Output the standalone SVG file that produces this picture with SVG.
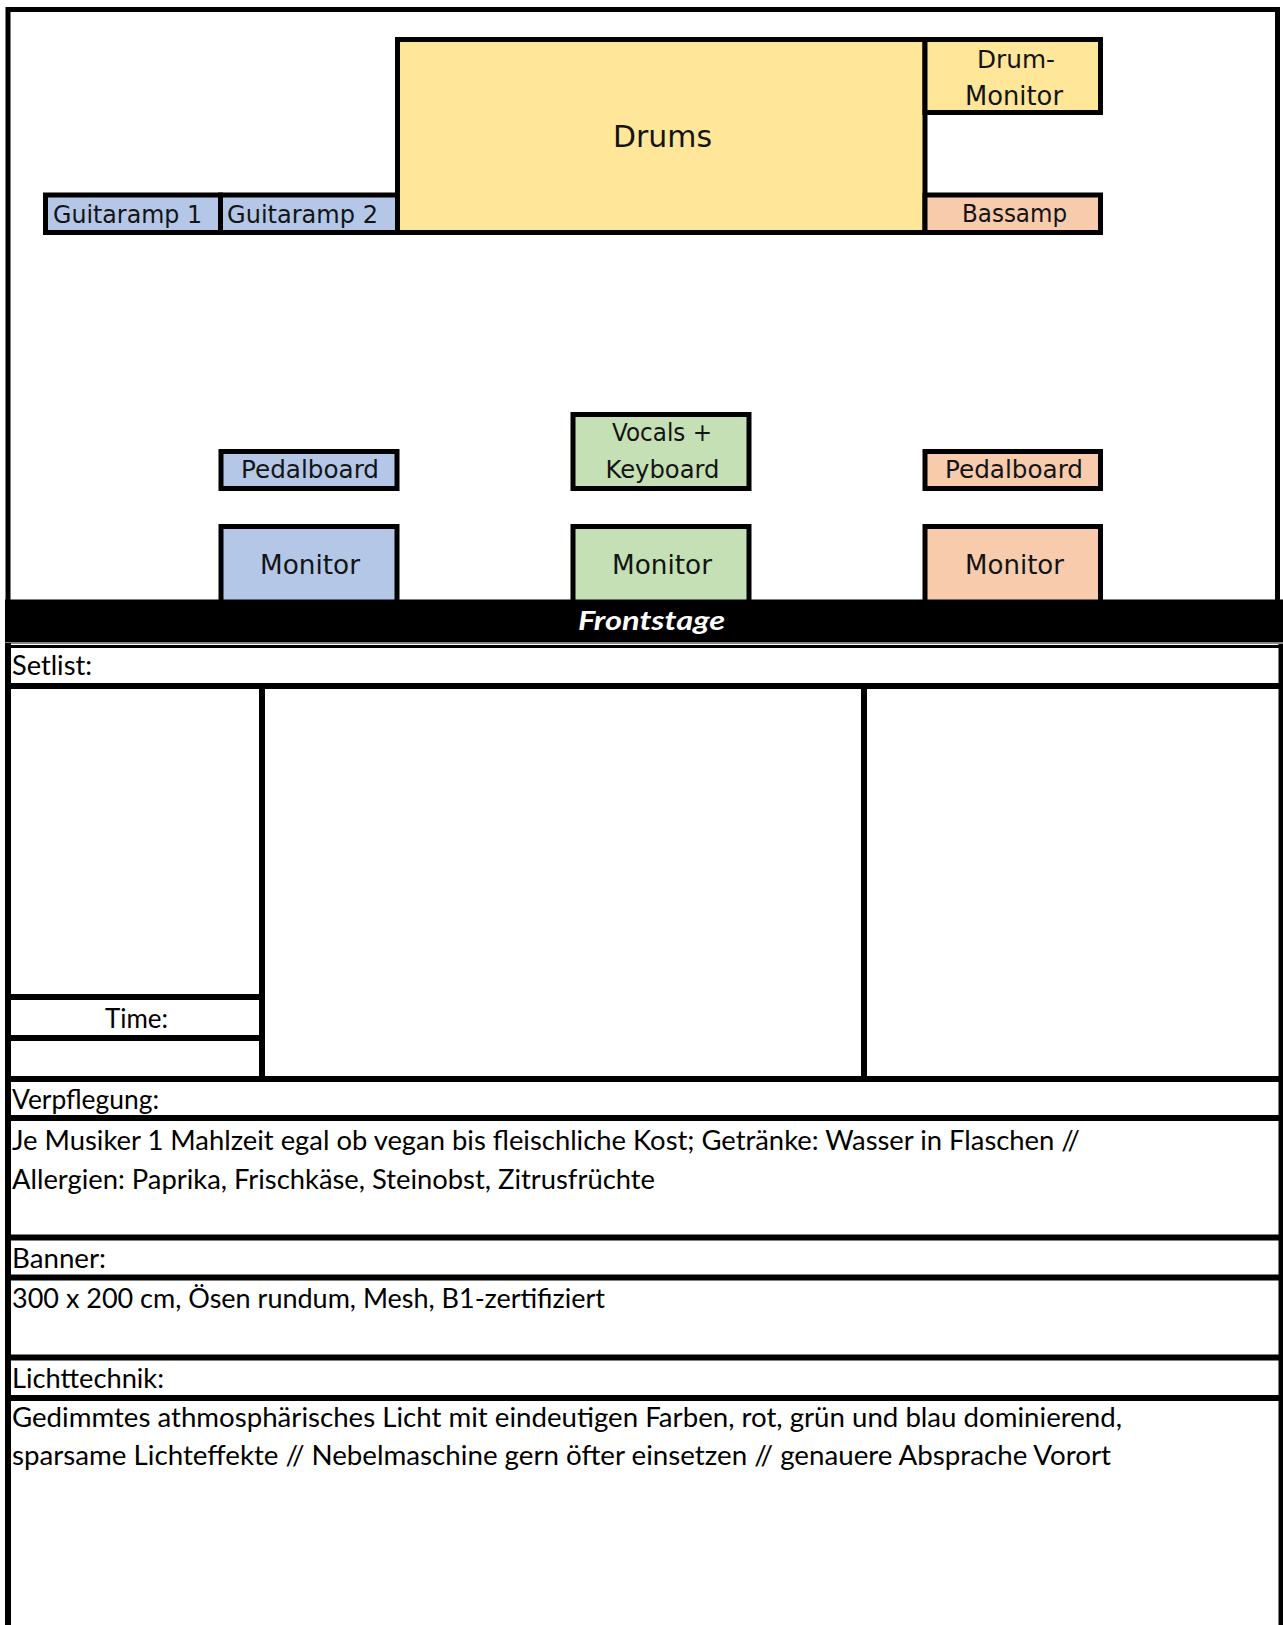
<svg xmlns="http://www.w3.org/2000/svg" width="1283" height="1625" viewBox="0 0 1283 1625">
<style>
.box{stroke:#000;stroke-width:5}
.blue{fill:#B4C7E7}.green{fill:#C5E0B4}.orange{fill:#F8CBAD}.yellow{fill:#FFE699}
.lbl{font-family:"DejaVu Sans",Verdana,sans-serif;font-size:24px;fill:#141414;text-anchor:middle}
.big{font-size:30px}.mon{font-size:26px}
.tbl{font-family:Lato,"Liberation Sans",sans-serif;font-size:27px;fill:#000}
.line{stroke:#000;stroke-width:6;fill:none}
</style>
<rect width="1283" height="1625" fill="#fff"/>

<g id="stage-border">
<path d="M8,601 V9.5 H1277.5 V601" fill="none" stroke="#000" stroke-width="5"/>
</g>

<g id="guitaramp1">
<rect class="box blue" x="45.5" y="195" width="175" height="37.5"/>
<text class="lbl" x="127.5" y="222.5" textLength="149" lengthAdjust="spacingAndGlyphs">Guitaramp 1</text>
</g>
<g id="guitaramp2">
<rect class="box blue" x="220.5" y="195" width="177" height="37.5"/>
<text class="lbl" x="302.5" y="222.5" textLength="151" lengthAdjust="spacingAndGlyphs">Guitaramp 2</text>
</g>
<g id="drums">
<rect class="box yellow" x="397.5" y="39.5" width="527.5" height="193"/>
<text class="lbl big" x="662.5" y="147" textLength="99" lengthAdjust="spacingAndGlyphs">Drums</text>
</g>
<g id="drum-monitor">
<rect class="box yellow" x="925" y="39.5" width="175.5" height="73"/>
<text class="lbl" x="1016" y="67.5" textLength="78" lengthAdjust="spacingAndGlyphs">Drum-</text>
<text class="lbl mon" x="1014" y="105" textLength="98" lengthAdjust="spacingAndGlyphs">Monitor</text>
</g>
<g id="bassamp">
<rect class="box orange" x="925" y="195" width="175.5" height="37.5"/>
<text class="lbl" x="1014.5" y="222" textLength="105" lengthAdjust="spacingAndGlyphs">Bassamp</text>
</g>

<g id="pedalboard-left">
<rect class="box blue" x="221" y="451.5" width="176" height="37"/>
<text class="lbl" x="310" y="478" textLength="138" lengthAdjust="spacingAndGlyphs">Pedalboard</text>
</g>
<g id="vocals-keyboard">
<rect class="box green" x="573" y="414.5" width="176" height="74"/>
<text class="lbl" x="662" y="441" textLength="100" lengthAdjust="spacingAndGlyphs">Vocals +</text>
<text class="lbl" x="662.5" y="478" textLength="114" lengthAdjust="spacingAndGlyphs">Keyboard</text>
</g>
<g id="pedalboard-right">
<rect class="box orange" x="925" y="451.5" width="175.5" height="37"/>
<text class="lbl" x="1014" y="478" textLength="138" lengthAdjust="spacingAndGlyphs">Pedalboard</text>
</g>

<g id="monitor-left">
<rect class="box blue" x="221" y="526.5" width="176" height="76"/>
<text class="lbl mon" x="310" y="574" textLength="100" lengthAdjust="spacingAndGlyphs">Monitor</text>
</g>
<g id="monitor-center">
<rect class="box green" x="573" y="526.5" width="176" height="76"/>
<text class="lbl mon" x="662" y="574" textLength="100" lengthAdjust="spacingAndGlyphs">Monitor</text>
</g>
<g id="monitor-right">
<rect class="box orange" x="925" y="526.5" width="175.5" height="76"/>
<text class="lbl mon" x="1014.5" y="574" textLength="99" lengthAdjust="spacingAndGlyphs">Monitor</text>
</g>

<g id="frontstage">
<rect x="5" y="599.5" width="1278" height="43" fill="#000"/>
<line x1="5" y1="643.5" x2="1283" y2="643.5" stroke="#8a8a8a" stroke-width="1"/>
<text x="651.5" y="630" font-family="Lato,'Open Sans',sans-serif" font-size="27" font-weight="bold" font-style="italic" fill="#fff" text-anchor="middle" textLength="147" lengthAdjust="spacingAndGlyphs">Frontstage</text>
</g>

<g id="table-lines">
<line class="line" x1="8" y1="643" x2="8" y2="1625"/>
<line class="line" x1="1281" y1="644" x2="1281" y2="1625" style="stroke-width:5"/>
<line class="line" x1="8" y1="646.5" x2="1283" y2="646.5" style="stroke-width:3"/>
<line class="line" x1="8" y1="686" x2="1283" y2="686"/>
<line class="line" x1="262" y1="686" x2="262" y2="1079"/>
<line class="line" x1="864" y1="686" x2="864" y2="1079"/>
<line class="line" x1="8" y1="997" x2="262" y2="997"/>
<line class="line" x1="8" y1="1038" x2="262" y2="1038"/>
<line class="line" x1="8" y1="1079" x2="1283" y2="1079"/>
<line class="line" x1="8" y1="1118" x2="1283" y2="1118"/>
<line class="line" x1="8" y1="1237.5" x2="1283" y2="1237.5"/>
<line class="line" x1="8" y1="1277.5" x2="1283" y2="1277.5"/>
<line class="line" x1="8" y1="1357.5" x2="1283" y2="1357.5"/>
<line class="line" x1="8" y1="1398" x2="1283" y2="1398"/>
</g>

<g id="setlist">
<text class="tbl" x="12" y="675" textLength="80" lengthAdjust="spacingAndGlyphs">Setlist:</text>
<text class="tbl" x="105" y="1028" textLength="63" lengthAdjust="spacingAndGlyphs">Time:</text>
</g>
<g id="verpflegung">
<text class="tbl" x="12" y="1109" textLength="147" lengthAdjust="spacingAndGlyphs">Verpflegung:</text>
<text class="tbl" x="12" y="1150" textLength="1068" lengthAdjust="spacingAndGlyphs">Je Musiker 1 Mahlzeit egal ob vegan bis fleischliche Kost; Getränke: Wasser in Flaschen //</text>
<text class="tbl" x="12" y="1189" textLength="643" lengthAdjust="spacingAndGlyphs">Allergien: Paprika, Frischkäse, Steinobst, Zitrusfrüchte</text>
</g>
<g id="banner">
<text class="tbl" x="12" y="1268" textLength="94" lengthAdjust="spacingAndGlyphs">Banner:</text>
<text class="tbl" x="12" y="1308" textLength="593" lengthAdjust="spacingAndGlyphs">300 x 200 cm, Ösen rundum, Mesh, B1-zertifiziert</text>
</g>
<g id="lichttechnik">
<text class="tbl" x="12" y="1388" textLength="152" lengthAdjust="spacingAndGlyphs">Lichttechnik:</text>
<text class="tbl" x="12" y="1427" textLength="1110" lengthAdjust="spacingAndGlyphs">Gedimmtes athmosphärisches Licht mit eindeutigen Farben, rot, grün und blau dominierend,</text>
<text class="tbl" x="12" y="1465" textLength="1099" lengthAdjust="spacingAndGlyphs">sparsame Lichteffekte // Nebelmaschine gern öfter einsetzen // genauere Absprache Vorort</text>
</g>
</svg>
